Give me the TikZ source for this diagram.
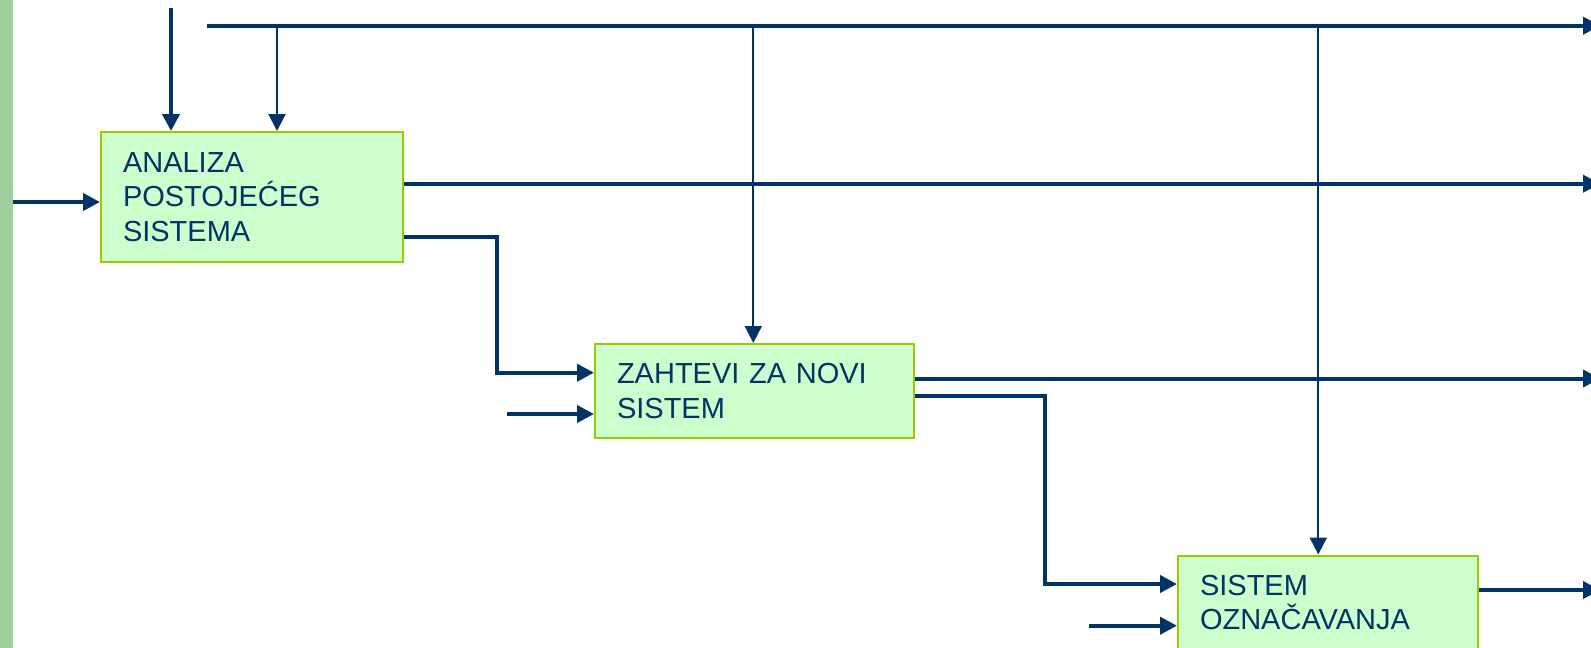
\documentclass[tikz,border=0pt]{standalone}
\usepackage{fontspec}
\setmainfont{Liberation Sans}
\usetikzlibrary{arrows.meta,calc}
\definecolor{ink}{HTML}{003366}
\definecolor{boxfill}{HTML}{CCFFCC}
\definecolor{boxedge}{HTML}{99CC00}
\definecolor{sidebar}{HTML}{9FCF9C}
\tikzset{
  proc/.style={draw=boxedge, fill=boxfill, line width=2pt, anchor=north west,
    inner xsep=22pt, inner ysep=0pt, align=left, text=ink,
    font=\fontsize{29}{34.7}\selectfont},
  heavy/.style={draw=ink, line width=4pt, -{Triangle[length=17pt,width=17pt]}},
  light/.style={draw=ink, line width=2pt, -{Triangle[length=17pt,width=17pt]}},
}
\begin{document}
\begin{tikzpicture}[x=1pt,y=-1pt]
\useasboundingbox (0,0) rectangle (1591,648);
\fill[sidebar] (0,0) rectangle (12.7,648);

\node[proc, minimum width=302pt, minimum height=130pt, text width=258pt] (b1) at (100,131) {ANALIZA\\POSTOJEĆEG\\SISTEMA};
\node[proc, minimum width=319pt, minimum height=94pt, text width=275pt] (b2) at (594,343) {ZAHTEVI ZA NOVI\\SISTEM};
\node[proc, minimum width=300pt, minimum height=94pt, text width=256pt] (b3) at (1177,554.5) {SISTEM\\OZNAČAVANJA};

% free ends
\coordinate (src1) at (171,8);
\coordinate (rail) at (207,25.7);
\coordinate (railend) at (1600,25.7);
\coordinate (tap1) at (277,25.7);
\coordinate (tap2) at (753.3,25.7);
\coordinate (tap3) at (1318.3,25.7);
\coordinate (lin) at (13,202);
\coordinate (o1) at (1600,183.7);
\coordinate (bend1) at (497,237);
\coordinate (bend1b) at (497,372.7);
\coordinate (in2) at (507,414);
\coordinate (o2) at (1600,378.5);
\coordinate (bend2) at (1045,396);
\coordinate (bend2b) at (1045,584);
\coordinate (in3) at (1089,625.7);
\coordinate (o3) at (1600,590);

% connectors
\draw[heavy] (src1) -- (src1 |- b1.north);
\draw[heavy] (rail) -- (railend);
\draw[light] (tap1) -- (tap1 |- b1.north);
\draw[light] (tap2) -- (tap2 |- b2.north);
\draw[light] (tap3) -- (tap3 |- b3.north);
\draw[heavy] (lin) -- (lin -| b1.west);
\draw[heavy] (o1 -| b1.east) -- (o1);
\draw[heavy] (bend1 -| b1.east) -- (bend1) -- (bend1b) -- (bend1b -| b2.west);
\draw[heavy] (in2) -- (in2 -| b2.west);
\draw[heavy] (o2 -| b2.east) -- (o2);
\draw[heavy] (bend2 -| b2.east) -- (bend2) -- (bend2b) -- (bend2b -| b3.west);
\draw[heavy] (in3) -- (in3 -| b3.west);
\draw[heavy] (o3 -| b3.east) -- (o3);
\end{tikzpicture}
\end{document}
